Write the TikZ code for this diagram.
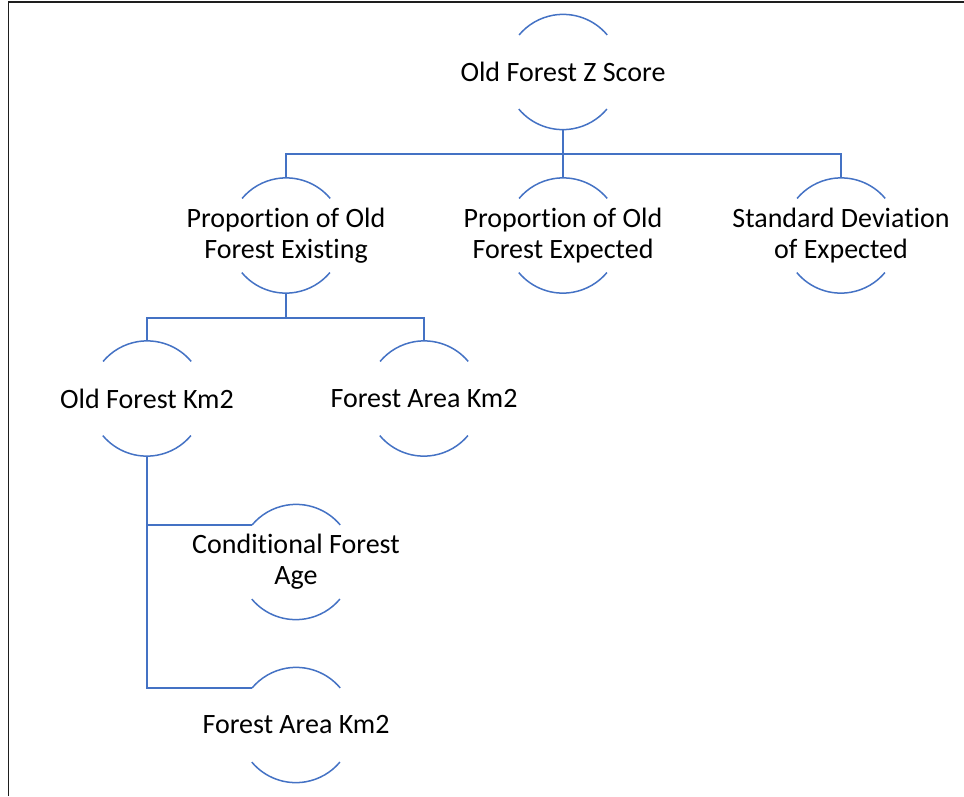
\documentclass[tikz,border=0pt]{standalone}
\usepackage{fontspec}
\setmainfont[Ligatures={NoCommon}]{Carlito}
\definecolor{linkblue}{RGB}{68,114,196}
\definecolor{framegray}{RGB}{30,30,30}
\tikzset{
  txt/.style={align=center, text=black, inner sep=0pt, font=\fontsize{28}{31}\selectfont},
  ring/.style={circle, minimum size=115pt, inner sep=0pt, label={[txt]center:#1}},
  link/.style={draw=linkblue, line width=1.5pt},
  frame/.style={draw=framegray, line width=1.5pt},
}
% the two blue arcs of a ring node (upper and lower)
\newcommand{\ringarcs}[1]{%
  \draw[link] (#1.40) arc[start angle=40, end angle=140, radius=57.5pt];
  \draw[link] (#1.220) arc[start angle=220, end angle=320, radius=57.5pt];
}
\begin{document}
\begin{tikzpicture}[x=1pt, y=-1pt]
  \useasboundingbox (0,0) rectangle (964,796);
  \draw[frame] (8.5,796) -- (8.5,2) -- (964,2);

  % nodes
  \node[ring={Old Forest Z Score}] (top) at (563,72) {};
  \node[ring={Proportion of Old\\Forest Existing}] (pe) at (286,235.5) {};
  \node[ring={Proportion of Old\\Forest Expected}] (pexp) at (563,235.5) {};
  \node[ring={Standard Deviation\\of Expected}] (sde) at (841,235.5) {};
  \node[ring={Old Forest Km2}] (ofk) at (147,398.5) {};
  \node[ring={Forest Area Km2}] (fak) at (424,398.5) {};
  \node[ring={Conditional Forest\\Age}] (cfa) at (296,562) {};
  \node[ring={Forest Area Km2}] (fak2) at (296,725) {};

  \foreach \n in {top,pe,pexp,sde,ofk,fak,cfa,fak2} {\ringarcs{\n}}

  % connectors
  \coordinate (bar1) at (563,154);
  \coordinate (bar2) at (286,318);
  \draw[link] (top.south) -- (bar1);
  \draw[link] (pe.north) |- (bar1) -| (sde.north);
  \draw[link] (bar1) -- (pexp.north);
  \draw[link] (pe.south) -- (bar2);
  \draw[link] (ofk.north) |- (bar2) -| (fak.north);
  \draw[link] (ofk.south) |- (cfa.140);
  \draw[link] (ofk.south) |- (fak2.140);
\end{tikzpicture}
\end{document}
